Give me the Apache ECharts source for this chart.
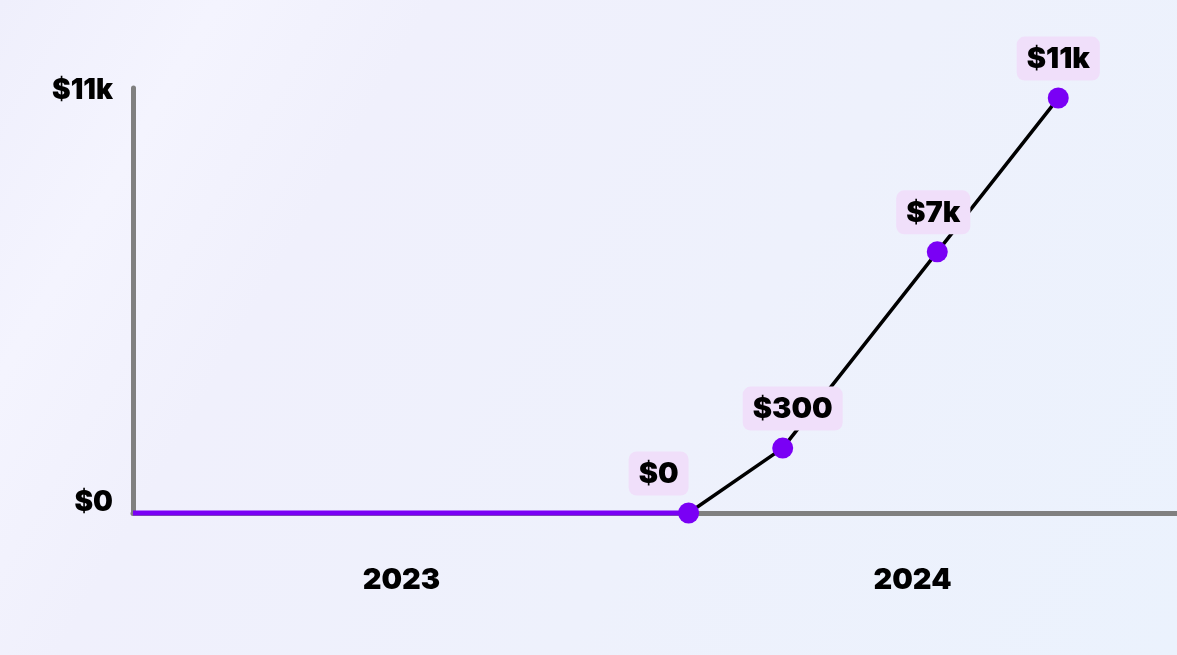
<!DOCTYPE html>
<html>
<head>
<meta charset="utf-8">
<script src="https://cdn.jsdelivr.net/npm/echarts@6/dist/echarts.min.js"></script>
<style>
  html, body { margin: 0; padding: 0; width: 1177px; height: 655px; overflow: hidden; }
  body { background: linear-gradient(120deg, #efeffc 0%, #f4f4fe 14%, #f0f0fc 28%, #eef1fc 60%, #ebf2fd 100%); }
  #chart { width: 1177px; height: 655px; }
</style>
</head>
<body>
<div id="chart"></div>
<script>
// ---- data (months since Jan 2023 on x, dollars on y as drawn) ----
const years = ['2023', '2024'];
const flatMonths = [0, 12.4];          // period with no revenue
const pointMonths = [12.4, 14.5, 17.95, 20.65];
const pointValues = [0, 1680, 6760, 10740];
const pointLabels = ['$0', '$300', '$7k', '$11k'];
const yTickLabels = { 0: '$0', 11000: '$11k' };
const yMax = 11000;
const xMax = 23.3;

// ---- styling ----
const FONT = 'Inter, "Open Sans", sans-serif';
const PURPLE = '#7a00f5';
const labelShiftX = [-30, 10, -4, 0];

const chart = echarts.init(document.getElementById('chart'), null, { renderer: 'canvas' });

const flatData = flatMonths.map(m => [m, 0]);
const pointData = pointMonths.map((m, i) => ({
  value: [m, pointValues[i]],
  label: { offset: [labelShiftX[i], 0] }
}));

chart.setOption({
  backgroundColor: 'transparent',
  animation: false,
  grid: [
    { left: 133, right: 0, top: 88, bottom: 142 },
    { left: 146, right: 9, top: 88, bottom: 142 }
  ],
  xAxis: [
    {
      type: 'value', gridIndex: 0, min: 0, max: xMax,
      axisLine: { show: true, lineStyle: { color: '#808080', width: 5 } },
      axisTick: { show: false }, axisLabel: { show: false }, splitLine: { show: false }
    },
    {
      type: 'category', gridIndex: 1, data: years,
      axisLine: { show: false }, axisTick: { show: false }, splitLine: { show: false },
      axisLabel: { margin: 53, color: '#000', fontFamily: FONT, fontWeight: 900, fontSize: 29 }
    }
  ],
  yAxis: [
    {
      type: 'value', gridIndex: 0, min: 0, max: yMax, interval: yMax,
      axisLine: { show: true, lineStyle: { color: '#808080', width: 5, cap: 'round' } },
      axisTick: { show: false }, splitLine: { show: false },
      axisLabel: {
        margin: 20, color: '#000', fontFamily: FONT, fontWeight: 900, fontSize: 28,
        formatter: v => v === 0 ? '{z|' + yTickLabels[0] + '}' : '{t|' + (yTickLabels[v] || '') + '}',
        rich: {
          z: { fontFamily: FONT, fontWeight: 900, fontSize: 28, color: '#000', padding: [0, 0, 20, 0] },
          t: { fontFamily: FONT, fontWeight: 900, fontSize: 28, color: '#000', padding: [0, 0, -5, 0] }
        }
      }
    },
    {
      type: 'value', gridIndex: 1, min: 0, max: yMax, show: false
    }
  ],
  series: [
    {
      type: 'line', xAxisIndex: 0, yAxisIndex: 0, data: flatData,
      symbol: 'none', clip: false, z: 3,
      lineStyle: { color: PURPLE, width: 5 }
    },
    {
      type: 'line', xAxisIndex: 0, yAxisIndex: 0, data: pointData,
      symbol: 'circle', symbolSize: 21, clip: false, z: 4,
      lineStyle: { color: '#000', width: 3.5 },
      itemStyle: { color: PURPLE },
      label: {
        show: true, position: 'top', distance: 7,
        formatter: p => pointLabels[p.dataIndex],
        color: '#000', fontFamily: FONT, fontWeight: 900, fontSize: 29,
        backgroundColor: '#f0dffa', borderRadius: 8, padding: [8, 10, 7, 10]
      }
    }
  ]
});
</script>
</body>
</html>
